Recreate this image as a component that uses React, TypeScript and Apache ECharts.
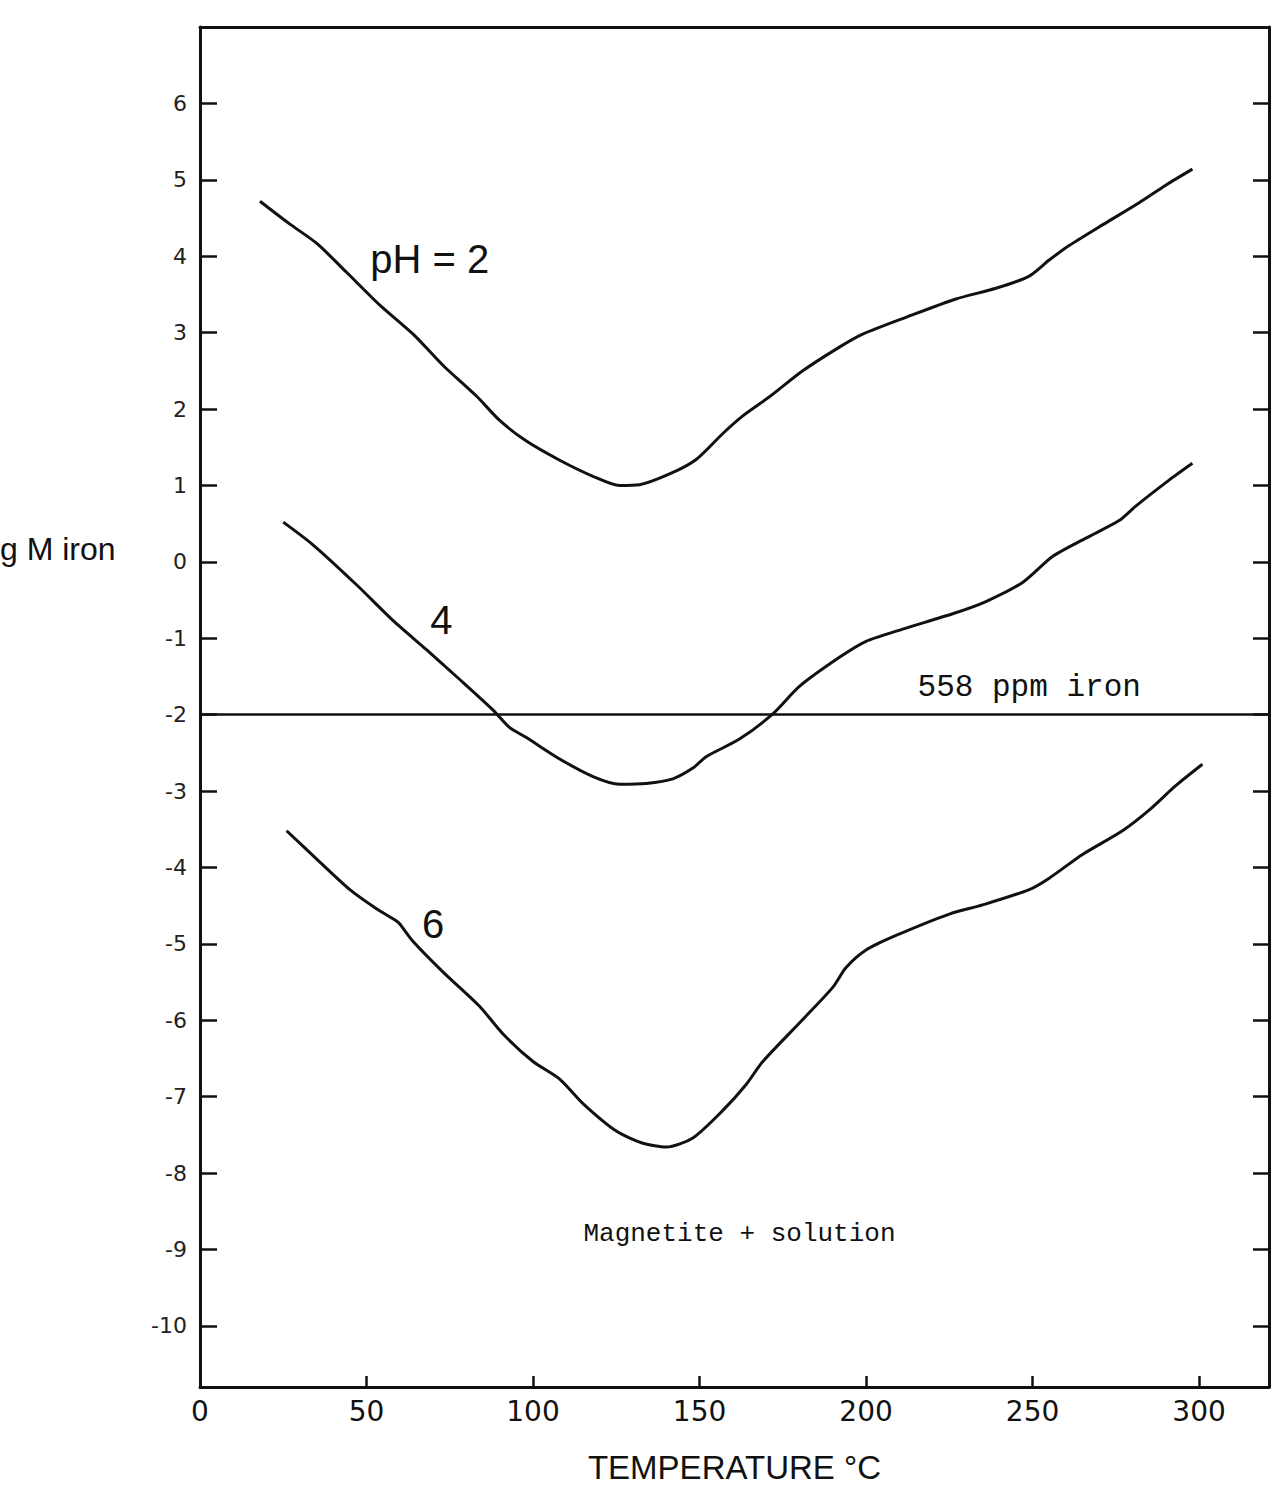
import React, { useEffect, useRef } from "react";
import * as echarts from "echarts";

// Temperature (°C) and log M iron readings for each pH curve
const ph2Temps = [18, 27, 35, 44, 54, 64, 73, 83, 90, 98, 108, 118, 126, 132, 141, 149, 157, 163, 171, 181, 192, 199, 212, 227, 239, 249, 255, 261, 271, 282, 290, 298];
const ph2Values = [4.72, 4.42, 4.17, 3.79, 3.36, 2.98, 2.57, 2.17, 1.85, 1.58, 1.33, 1.12, 1.0, 1.01, 1.15, 1.34, 1.68, 1.91, 2.16, 2.5, 2.81, 2.98, 3.2, 3.44, 3.58, 3.74, 3.95, 4.14, 4.41, 4.7, 4.93, 5.14];

const ph4Temps = [25, 34, 47, 58, 68, 78, 88, 93, 98, 108, 118, 126, 134, 142, 148, 152, 162, 172, 180, 192, 200, 211, 226, 236, 247, 256, 266, 276, 281, 291, 298];
const ph4Values = [0.52, 0.22, -0.3, -0.77, -1.15, -1.54, -1.94, -2.17, -2.3, -2.58, -2.81, -2.91, -2.9, -2.84, -2.7, -2.55, -2.32, -1.99, -1.63, -1.25, -1.04, -0.88, -0.68, -0.52, -0.27, 0.07, 0.31, 0.54, 0.73, 1.07, 1.29];

const ph6Temps = [26, 36, 45, 53, 59, 60, 64, 73, 84, 91, 100, 108, 115, 125, 133, 140, 148, 157, 164, 169, 181, 190, 194, 200, 209, 225, 235, 249, 255, 265, 277, 285, 293, 301];
const ph6Values = [-3.52, -3.93, -4.29, -4.54, -4.7, -4.74, -4.97, -5.37, -5.82, -6.18, -6.54, -6.77, -7.09, -7.45, -7.61, -7.66, -7.54, -7.18, -6.84, -6.54, -5.99, -5.57, -5.31, -5.08, -4.89, -4.61, -4.49, -4.29, -4.14, -3.83, -3.52, -3.25, -2.93, -2.65];

// Reference level: 558 ppm iron
const ironLevel = -2;

// Axis ticks
const xTickLabels = [0, 50, 100, 150, 200, 250, 300];
const xTickMarks = [50, 100, 150, 200, 250, 300];
const yTicks = [-10, -9, -8, -7, -6, -5, -4, -3, -2, -1, 0, 1, 2, 3, 4, 5, 6];

// Curve labels (in data coordinates)
const curveLabels = ["pH = 2", "4", "6"];
const curveLabelTemps = [69, 72.5, 70];
const curveLabelValues = [3.96, -0.76, -4.74];

// Annotations (in data coordinates)
const noteTexts = ["558 ppm iron", "Magnetite + solution"];
const noteTemps = [249, 162];
const noteValues = [-1.64, -8.8];
const noteSizes = [31, 26];

const X_MIN = 0;
const X_MAX = 321;
const Y_MIN = -10.8;
const Y_MAX = 7;

export default function App() {
  const ref = useRef<HTMLDivElement>(null);

  useEffect(() => {
    if (!ref.current) return;
    const chart = echarts.init(ref.current, null, { renderer: "svg" });
    const ink = "#111";
    const axisLine = { show: true, onZero: false, lineStyle: { color: ink, width: 3 } };

    const lineSeries = (name: string, temps: number[], values: number[]) => ({
      name,
      type: "line",
      data: temps.map((t, i) => [t, values[i]]),
      showSymbol: false,
      smooth: 0.25,
      lineStyle: { color: ink, width: 3 },
      z: 3,
    });

    chart.setOption({
      animation: false,
      backgroundColor: "#ffffff",
      grid: { left: 200, top: 27, width: 1069, height: 1360, containLabel: false },
      xAxis: [
        {
          type: "value",
          position: "bottom",
          min: X_MIN,
          max: X_MAX,
          splitLine: { show: false },
          axisLine,
          axisTick: {
            show: true,
            inside: true,
            length: 11,
            lineStyle: { color: ink, width: 2.5 },
            customValues: xTickMarks,
          },
          axisLabel: {
            customValues: xTickLabels,
            margin: 10,
            fontFamily: "DejaVu Sans",
            fontSize: 28,
            color: ink,
          },
          name: "TEMPERATURE °C",
          nameLocation: "middle",
          nameGap: 64,
          nameTextStyle: { fontFamily: "Liberation Sans", fontSize: 33, color: ink },
        },
        {
          type: "value",
          position: "top",
          min: X_MIN,
          max: X_MAX,
          splitLine: { show: false },
          axisLine,
          axisTick: { show: false },
          axisLabel: { show: false },
        },
      ],
      yAxis: [
        {
          type: "value",
          position: "left",
          min: Y_MIN,
          max: Y_MAX,
          splitLine: { show: false },
          axisLine,
          axisTick: {
            show: true,
            inside: true,
            length: 17,
            lineStyle: { color: ink, width: 2.5 },
            customValues: yTicks,
          },
          axisLabel: {
            customValues: yTicks,
            margin: 13,
            fontFamily: "DejaVu Sans",
            fontSize: 22,
            color: "#222",
          },
        },
        {
          type: "value",
          position: "right",
          min: Y_MIN,
          max: Y_MAX,
          splitLine: { show: false },
          axisLine,
          axisTick: {
            show: true,
            inside: true,
            length: 16,
            lineStyle: { color: ink, width: 2.5 },
            customValues: yTicks,
          },
          axisLabel: { show: false },
        },
      ],
      series: [
        {
          ...lineSeries("pH 2", ph2Temps, ph2Values),
          markLine: {
            silent: true,
            symbol: ["none", "none"],
            label: { show: false },
            lineStyle: { color: ink, width: 2.5, type: "solid" },
            data: [{ yAxis: ironLevel }],
          },
        },
        lineSeries("pH 4", ph4Temps, ph4Values),
        lineSeries("pH 6", ph6Temps, ph6Values),
      ],
    });

    const graphics: any[] = [];
    curveLabels.forEach((txt, i) => {
      const p = chart.convertToPixel({ gridIndex: 0 }, [curveLabelTemps[i], curveLabelValues[i]]) as number[];
      graphics.push({
        type: "text",
        x: p[0],
        y: p[1],
        z: 10,
        style: {
          text: txt,
          fontFamily: "Liberation Sans",
          fontSize: 40,
          fill: ink,
          align: "center",
          verticalAlign: "middle",
        },
      });
    });
    noteTexts.forEach((txt, i) => {
      const p = chart.convertToPixel({ gridIndex: 0 }, [noteTemps[i], noteValues[i]]) as number[];
      graphics.push({
        type: "text",
        x: p[0],
        y: p[1],
        z: 10,
        style: {
          text: txt,
          fontFamily: "Liberation Mono",
          fontSize: noteSizes[i],
          fill: ink,
          align: "center",
          verticalAlign: "middle",
        },
      });
    });
    graphics.push({
      type: "text",
      x: 0,
      y: 549,
      z: 10,
      style: {
        text: "g M iron",
        fontFamily: "Liberation Sans",
        fontSize: 32,
        fill: ink,
        align: "left",
        verticalAlign: "middle",
      },
    });
    chart.setOption({ graphic: graphics });

    return () => chart.dispose();
  }, []);

  return (
    <div
      ref={ref}
      style={{ position: "absolute", left: 0, top: 0, width: 1288, height: 1491, background: "#fff" }}
    />
  );
}
